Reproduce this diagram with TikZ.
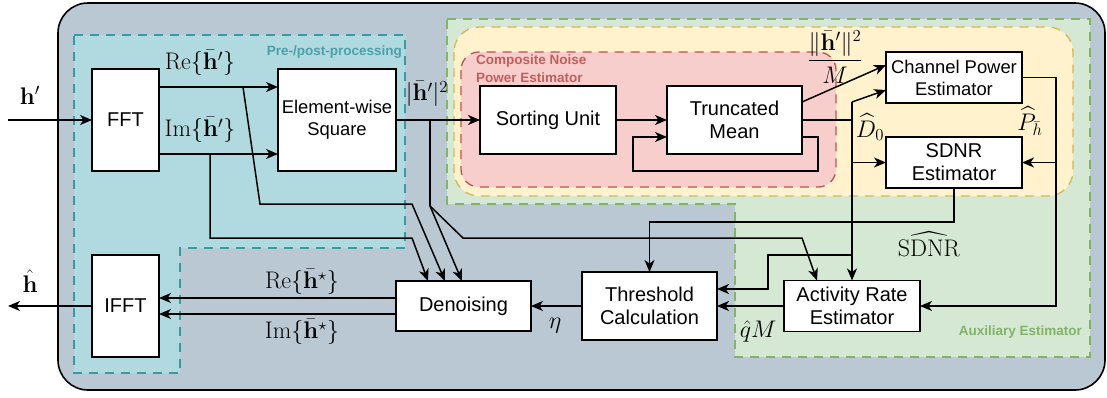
\RequirePackage{fix-cm}
\documentclass[tikz,border=0pt]{standalone}
\usepackage{amsmath}
\usepackage[no-math]{fontspec}
\newfontfamily\diagsans{Liberation Sans}
\usetikzlibrary{arrows.meta,calc}

\definecolor{outerfill}{HTML}{BAC8D3}
\definecolor{tealfill}{HTML}{B1DAE0}
\definecolor{tealline}{HTML}{3A9AA1}
\definecolor{teallabel}{HTML}{4CA0A8}
\definecolor{greenfill}{HTML}{D5E8D4}
\definecolor{greenline}{HTML}{82B366}
\definecolor{yellowfill}{HTML}{FFF2CC}
\definecolor{yellowline}{HTML}{D6B656}
\definecolor{redfill}{HTML}{F8CECC}
\definecolor{redline}{HTML}{B85450}
\definecolor{redlabel}{HTML}{C25E5A}

\tikzset{
  block/.style={draw=black, fill=white, line width=1.5pt, inner sep=0pt, outer sep=0pt,
    align=center, font=\diagsans\fontsize{20}{23}\selectfont},
  smallblock/.style={block, font=\diagsans\fontsize{18.4}{22}\selectfont},
  wire/.style={line width=1.5pt, draw=black},
  arr/.style={wire, -{Stealth[length=12pt,width=10pt,inset=3.5pt]}},
  mlab/.style={inner sep=0pt, font=\fontsize{24}{28}\selectfont},
  region/.style={line width=1.3pt, dash pattern=on 9pt off 7pt},
  reglabel/.style={inner sep=0pt, font=\diagsans\bfseries\fontsize{13.5}{16}\selectfont}
}

\begin{document}
\begin{tikzpicture}[x=1pt,y=-1pt]
\useasboundingbox (0,0) rectangle (1107,397);

% enclosing system
\draw[fill=outerfill, line width=1.6pt, rounded corners=30pt] (58,3) rectangle (1105,390);

% processing groups
\draw[region, fill=tealfill, draw=tealline]
  (74,35) -- (405,35) -- (405,248) -- (180,248) -- (180,373) -- (74,373) -- cycle;
\draw[region, fill=greenfill, draw=greenline]
  (447,19) -- (1090,19) -- (1090,357) -- (735,357) -- (735,204) -- (447,204) -- cycle;
\draw[region, fill=yellowfill, draw=yellowline, rounded corners=25pt] (454,27) rectangle (1073,196);
\draw[region, fill=redfill, draw=redline, rounded corners=18pt] (461,52) rectangle (836,187);

\node[reglabel, text=teallabel, anchor=east] (lpre) at (402,52) {Pre-/post-processing};
\node[reglabel, text=redlabel, anchor=west] (lcnp1) at (476,61) {Composite Noise};
\node[reglabel, text=redlabel, anchor=west] (lcnp2) at (476,78) {Power Estimator};
\node[reglabel, text=greenline, anchor=east] (laux) at (1082,332) {Auxiliary Estimator};

% blocks
\node[block, minimum width=67pt, minimum height=102pt] (fft) at (125.5,120) {FFT};
\node[smallblock, minimum width=118pt, minimum height=102pt] (sq) at (337,120) {Element-wise\\Square};
\node[block, minimum width=136pt, minimum height=68pt] (sort) at (548,120) {Sorting Unit};
\node[block, minimum width=135pt, minimum height=68pt] (tmean) at (734.5,120) {Truncated\\Mean};
\node[smallblock, minimum width=136pt, minimum height=51pt] (cpe) at (954,77.5) {Channel Power\\Estimator};
\node[block, minimum width=136pt, minimum height=51pt] (sdnr) at (954,162.5) {SDNR\\Estimator};
\node[block, minimum width=67pt, minimum height=102pt] (ifft) at (125.5,306) {IFFT};
\node[block, minimum width=135pt, minimum height=50pt] (den) at (463.5,306) {Denoising};
\node[block, minimum width=135pt, minimum height=68pt] (thr) at (649.5,306) {Threshold\\Calculation};
\node[block, minimum width=136pt, minimum height=51pt] (act) at (852,306) {Activity Rate\\Estimator};

% free ends and bends
\coordinate (hin) at (8,120);
\coordinate (hout) at (8,306);
\coordinate (reY) at (0,87);
\coordinate (imY) at (0,154);
\coordinate (reBr) at (243,87);
\coordinate (imBr) at (210,154);
\coordinate (pwBr) at (430,120);
\coordinate (pwKnee) at (430,206);
\coordinate (d0top) at (852,102);
\coordinate (phX) at (1056,0);
\coordinate (snY) at (0,222);

% input / output
\draw[arr] (hin) -- (fft.west);
\draw[arr] (ifft.west) -- (hout);

% FFT to element-wise square
\draw[arr] (fft.east |- reY) -- (sq.west |- reY);
\draw[arr] (fft.east |- imY) -- (sq.west |- imY);
\draw[arr] (sq.east) -- (sort.west);
\draw[arr] (sort.east) -- (tmean.west);

% real / imaginary / power parts into denoising
\draw[arr] (reBr) -- (260,204) -- (412,204) -- ([xshift=49pt]den.north west);
\draw[arr] (imBr) -- (210,238) -- (412,238) -- ([xshift=32pt]den.north west);
\draw[wire] (pwBr) -- (pwKnee);
\draw[arr] (pwKnee) -- ([xshift=66pt]den.north west);
\draw[arr] (pwKnee) -- (463,238) -- (802,238) -- ([xshift=33pt]act.north west);

% truncated mean feedback loop
\draw[arr] ($(tmean.east)+(0,17)$) -- (818,137) -- (818,171) -- (633,171) -- (633,137)
  -- ($(tmean.west)+(0,17)$);

% channel power from the truncated mean
\draw[arr] ($(tmean.east)+(0,-18)$) -- ($(cpe.west)+(0,-12.5)$);

% composite noise power D0
\draw[wire] (tmean.east) -- (tmean.east -| d0top);
\draw[arr] (d0top) -- (act.north);
\draw[arr] (d0top) -- ($(cpe.west)+(0,12.5)$);
\draw[arr] (sdnr.west -| d0top) -- (sdnr.west);
\draw[arr] (852,255) -- (768,255) -- (768,289) -- ($(thr.east)+(0,-17)$);

% channel power estimate
\draw[arr] (cpe.east) -- (cpe.east -| phX) -- (act.east -| phX) -- (act.east);
\draw[arr] (sdnr.east -| phX) -- (sdnr.east);

% SDNR estimate to threshold
\draw[arr] (sdnr.south) -- (sdnr.south |- snY) -- (thr.north |- snY) -- (thr.north);

% activity rate, threshold, denoising, IFFT
\draw[arr] (act.west) -- (thr.east |- act.west);
\draw[arr] (thr.west) -- (den.east);
\draw[arr] ($(den.west)+(0,-8)$) -- ($(ifft.east)+(0,-8)$);
\draw[arr] ($(den.west)+(0,8)$) -- ($(ifft.east)+(0,8)$);

% signal labels
\node[mlab] (lhin) at (30,95) {$\mathbf{h}'$};
\node[mlab] (lre) at (200,63) {$\mathrm{Re}\{\bar{\mathbf{h}}'\}$};
\node[mlab] (lim) at (200,130) {$\mathrm{Im}\{\bar{\mathbf{h}}'\}$};
\node[mlab] (lpw) at (427,94) {$|\bar{\mathbf{h}}'|^2$};
\node[mlab] (lfrac) at (835,57) {$\dfrac{\|\bar{\mathbf{h}}'\|^2}{M}$};
\node[mlab] (ld0) at (870,127) {$\widehat{D}_0$};
\node[mlab] (lph) at (1030,121) {$\widehat{P}_{\bar{h}}$};
\node[mlab] (lsdnr) at (929,244) {$\widehat{\mathrm{SDNR}}$};
\node[mlab] (lqm) at (758,331) {$\hat{q}M$};
\node[mlab] (leta) at (555,326) {$\eta$};
\node[mlab] (lres) at (302,282) {$\mathrm{Re}\{\bar{\mathbf{h}}^{\star}\}$};
\node[mlab] (lims) at (302,332) {$\mathrm{Im}\{\bar{\mathbf{h}}^{\star}\}$};
\node[mlab] (lhout) at (30,281) {$\hat{\mathbf{h}}$};
\end{tikzpicture}
\end{document}
